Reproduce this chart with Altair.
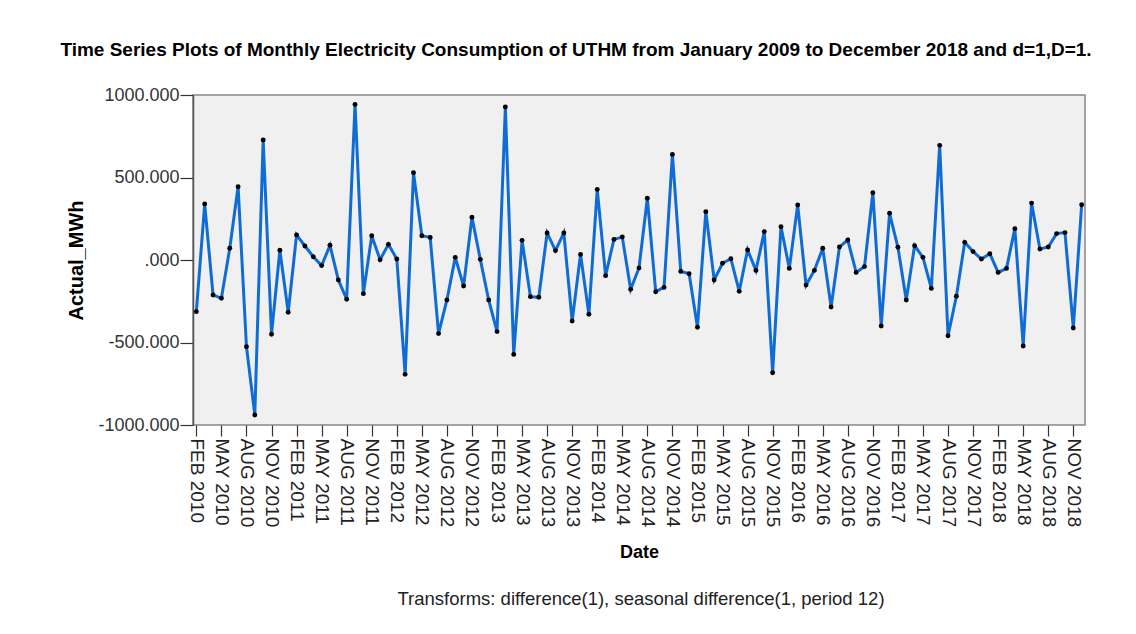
import altair as alt
import pandas as pd

# Monthly differenced series, FEB 2010 .. DEC 2018
values = [
    -313, 339, -212, -232, 71, 444, -525, -939, 727, -450, 59,
    -317, 152, 85, 20, -34, 89, -121, -238, 943, -204, 147, 2,
    95, 6, -693, 529, 147, 137, -446, -242, 16, -158, 259, 4,
    -242, -434, 927, -572, 119, -222, -226, 164, 57, 164, -370, 34,
    -329, 428, -95, 125, 139, -178, -48, 374, -192, -166, 640, -69,
    -83, -408, 293, -121, -20, 8, -190, 61, -63, 172, -683, 202,
    -51, 333, -152, -63, 71, -285, 79, 121, -75, -40, 408, -400,
    283, 77, -242, 87, 16, -172, 695, -459, -220, 107, 51, 6,
    38, -75, -51, 190, -521, 345, 67, 79, 160, 166, -412, 335,
]
dates = [d.strftime("%b %Y").upper() for d in pd.date_range("2010-02-01", periods=len(values), freq="MS")]
tick_labels = dates[::3]

title_text = "Time Series Plots of Monthly Electricity Consumption of UTHM from January 2009 to December 2018 and d=1,D=1."
footnote = "Transforms: difference(1), seasonal difference(1, period 12)"

df = pd.DataFrame({"Date": dates, "Actual_MWh": values})
foot_df = pd.DataFrame({"note": [footnote]})

W, H = 892, 330
FONT = "Liberation Sans"

x = alt.X(
    "Date:O", sort=None,
    scale=alt.Scale(type="point", padding=0.4),
    axis=alt.Axis(
        values=tick_labels, labelAngle=90, labelFontSize=19, labelColor="#222",
        labelFont=FONT, labelPadding=2, tickSize=11, tickColor="#333", tickWidth=1.2,
        domain=False, grid=False,
        title="Date", titleFont=FONT, titleFontSize=18, titleFontWeight="bold",
        titleColor="#000", titleX=W / 2, titleY=132, titleAlign="center",
        titleBaseline="alphabetic", titleAngle=0,
    ),
)
y = alt.Y(
    "Actual_MWh:Q",
    scale=alt.Scale(domain=[-1000, 1000], nice=False, zero=False),
    axis=alt.Axis(
        values=[-1000, -500, 0, 500, 1000],
        labelExpr="datum.value == 0 ? '.000' : replace(format(datum.value, '.3f'), '\u2212', '-')",
        labelFontSize=18, labelColor="#333", labelFont=FONT, labelPadding=1,
        tickSize=13, tickColor="#333", tickWidth=1.2,
        domain=True, domainColor="#555", domainWidth=1.5, grid=False,
        title="Actual_MWh", titleFont=FONT, titleFontSize=20, titleFontWeight="bold",
        titleColor="#000", titleAngle=-90, titleX=-111, titleY=H / 2,
        titleAlign="center", titleBaseline="alphabetic",
    ),
)

line = alt.Chart(df).mark_line(color="#0F6CD4", strokeWidth=3).encode(x=x, y=y)
pts = alt.Chart(df).mark_circle(color="#000", size=24, opacity=1).encode(x=x, y=y)
foot = alt.Chart(foot_df).mark_text(
    font=FONT, fontSize=18.5, color="#222", align="center", baseline="alphabetic"
).encode(x=alt.value(448), y=alt.value(510), text="note:N")

chart = alt.layer(line, pts, foot).properties(
    width=W, height=H,
    background="white",
    title=alt.Title(
        title_text, font=FONT, fontSize=19, fontWeight="bold", color="#000",
        anchor="middle", dx=-63, offset=11, baseline="alphabetic",
    ),
    autosize=alt.AutoSizeParams(type="none"),
    padding={"left": 185, "top": 87, "right": 43, "bottom": 201},
).configure_view(
    fill="#F0F0F0", stroke="#888", strokeWidth=1.5
)

chart.save("out.html", embed_options={"renderer": "svg", "actions": False})
